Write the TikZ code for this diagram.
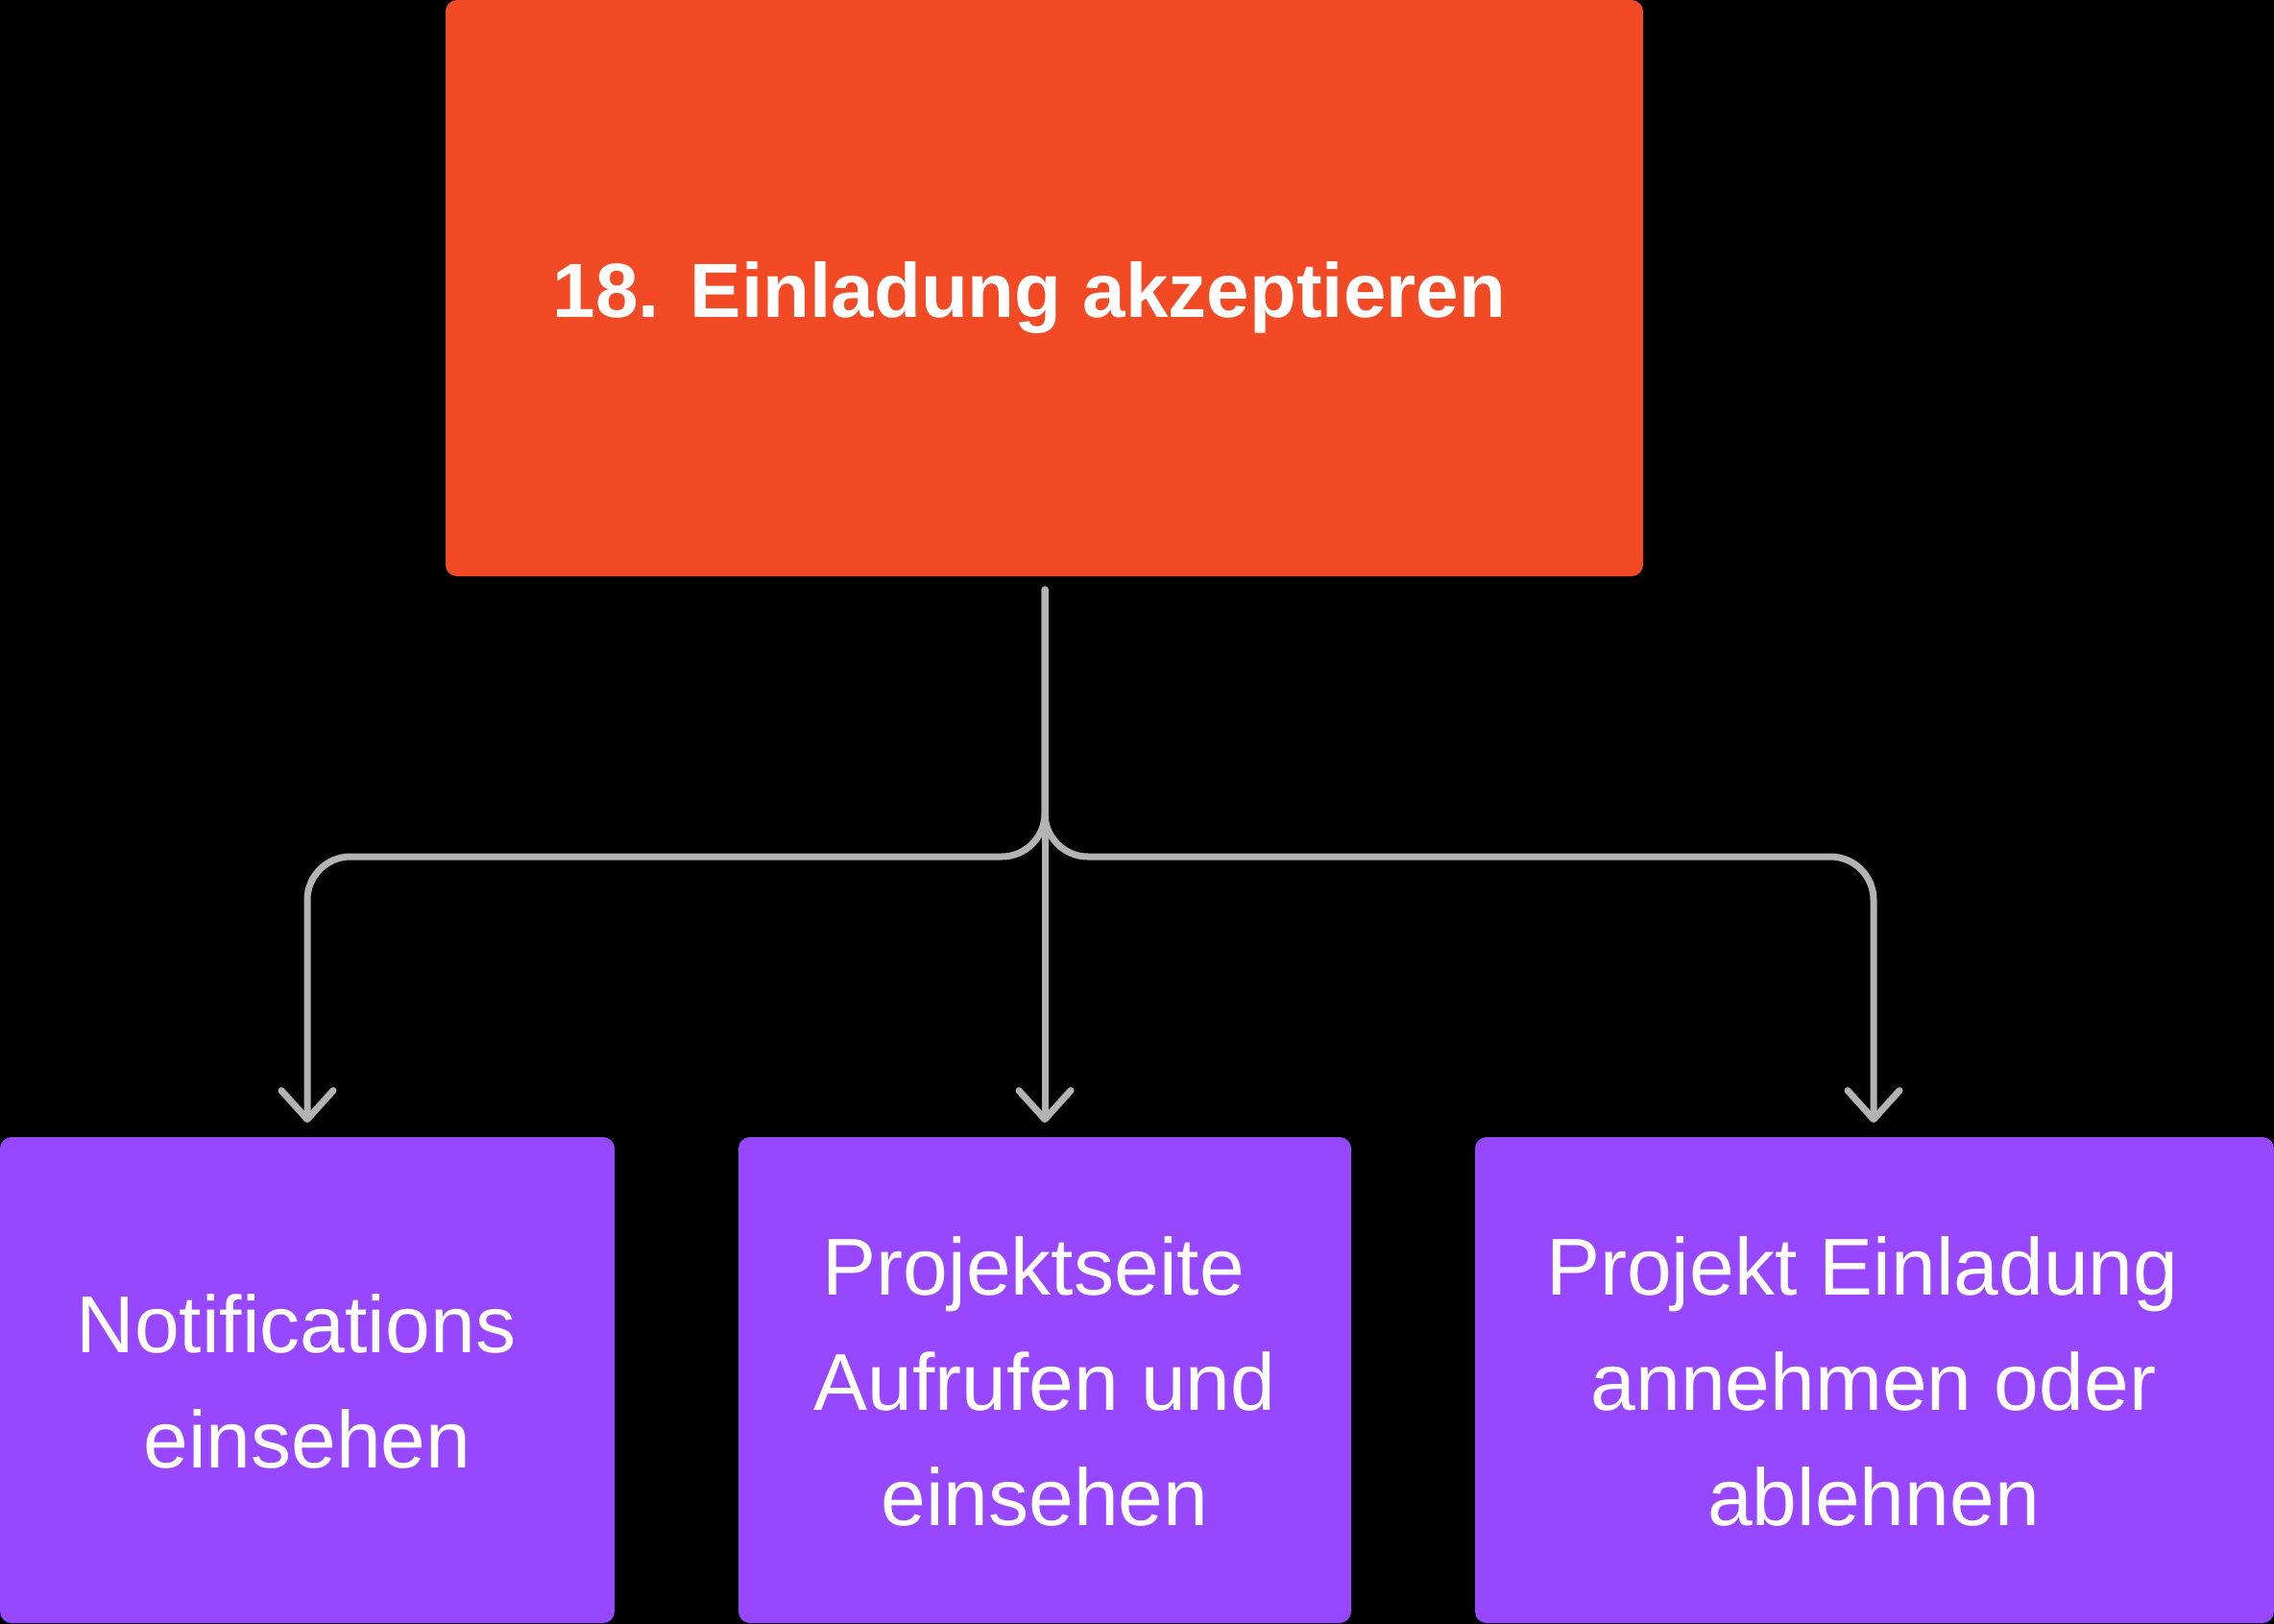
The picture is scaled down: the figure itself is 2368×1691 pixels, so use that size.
\documentclass[tikz,border=0pt]{standalone}
\usepackage{fontspec}
\setmainfont{Liberation Sans}
\usetikzlibrary{arrows.meta}
\definecolor{bgblack}{HTML}{000000}
\definecolor{topfill}{HTML}{F24A24}
\definecolor{subfill}{HTML}{9747FF}
\definecolor{linegray}{HTML}{B3B3B3}
\newcommand{\tsp}{\hspace*{0.278em}}
\tikzset{
  topbox/.style={fill=topfill, rounded corners=12pt, inner sep=0pt},
  subbox/.style={fill=subfill, rounded corners=12pt, inner sep=0pt},
  toptext/.style={inner sep=0pt, text=white, font=\bfseries\fontsize{80}{120}\selectfont},
  subtext/.style={inner sep=0pt, text=white, align=center, font=\fontsize{84}{120}\selectfont},
  conn/.style={draw=linegray, line width=7pt, line cap=round, rounded corners=45pt,
    -{Straight Barb[length=30pt, width=54pt, line width=7pt, round]}}
}
\begin{document}
\begin{tikzpicture}[x=1pt,y=-1pt]
\path[fill=bgblack, use as bounding box] (0,0) rectangle (2368,1691);
\node[topbox, minimum width=1247pt, minimum height=600pt] (top) at (1087.5,300) {};
\node[subbox, minimum width=640pt, minimum height=506pt] (n1) at (320,1437) {};
\node[subbox, minimum width=638pt, minimum height=506pt] (n2) at (1088,1437) {};
\node[subbox, minimum width=832pt, minimum height=506pt] (n3) at (1952,1437) {};
\node[toptext, anchor=base] (t0) at (1072,330) {18.\hspace{0.4em}Einladung akzeptieren};
\node[subtext, anchor=base] (t1) at (320,1528) {Notifications\tsp\\einsehen};
\node[subtext, anchor=base] (t2) at (1088,1588) {Projektseite\tsp\\Aufrufen und\tsp\\einsehen};
\node[subtext, anchor=base] (t3) at (1951,1588) {Projekt Einladung\tsp\\annehmen oder\tsp\\ablehnen};
\coordinate (start) at (1088,614);
\coordinate (junc) at (1088,892);
\coordinate (lcorner) at (320,892);
\coordinate (rcorner) at (1951,892);
\coordinate (ltip) at (320,1169);
\coordinate (mtip) at (1088,1169);
\coordinate (rtip) at (1951,1169);
\draw[conn] (start) -- (junc) -- (lcorner) -- (ltip);
\draw[conn] (start) -- (junc) -- (rcorner) -- (rtip);
\draw[conn] (start) -- (mtip);
\end{tikzpicture}
\end{document}
